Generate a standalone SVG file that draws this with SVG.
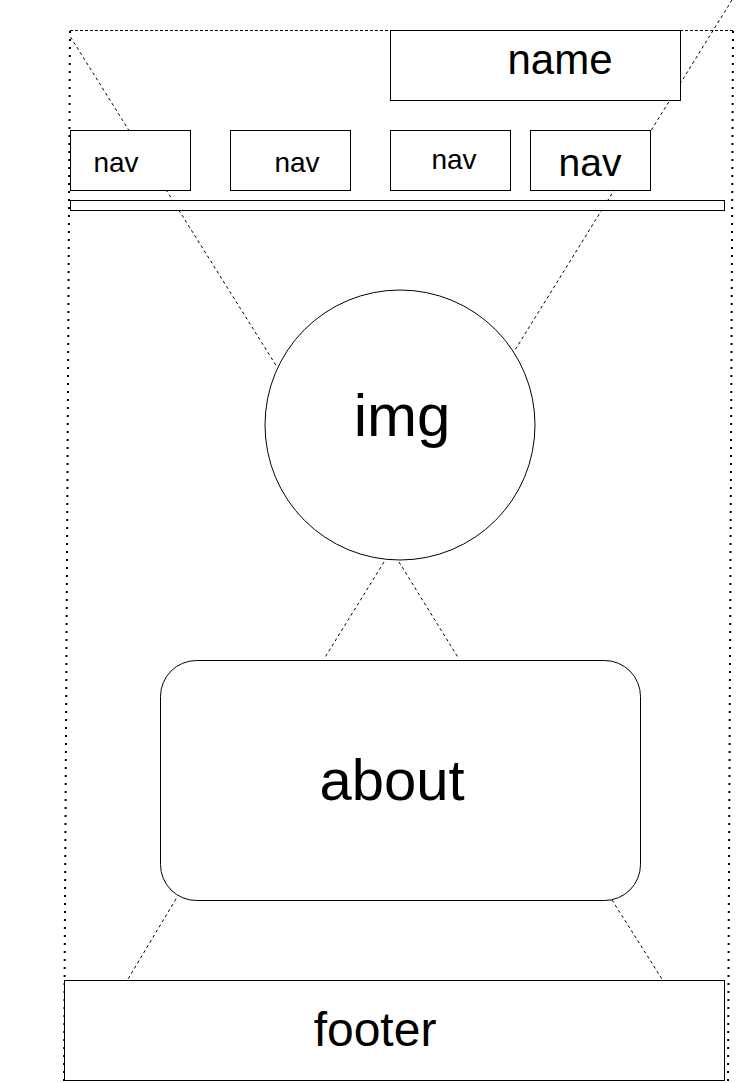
<svg xmlns="http://www.w3.org/2000/svg" width="751" height="1083" viewBox="0 0 751 1083">
<style>
.box{fill:#fff;stroke:#000;stroke-width:1}
.lbl{font-family:"Liberation Sans",Arial,Helvetica,sans-serif;fill:#000;text-anchor:middle}
.conn{fill:none;stroke:#000;stroke-width:1;stroke-dasharray:3 3}
.frame{fill:none;stroke:#000;stroke-width:2;stroke-dasharray:2 6}
</style>
<rect width="751" height="1083" fill="#fff"/>
<g id="frame">
<line x1="70" y1="30.5" x2="733" y2="30.5" stroke="#000" stroke-width="1" stroke-dasharray="3 2"/>
<line class="frame" x1="70" y1="31" x2="64" y2="1083"/>
<line class="frame" x1="733" y1="31" x2="728" y2="1083"/>
</g>
<g id="connectors">
<line class="conn" x1="70.5" y1="37" x2="277" y2="367"/>
<line class="conn" x1="732" y1="0" x2="515" y2="350"/>
<line class="conn" x1="384" y1="562" x2="324" y2="659"/>
<line class="conn" x1="399" y1="562" x2="459" y2="659"/>
<line class="conn" x1="176" y1="899" x2="128" y2="979"/>
<line class="conn" x1="612" y1="900" x2="662" y2="979"/>
</g>
<g id="name"><rect class="box" x="390.5" y="30.5" width="290" height="70"/><text class="lbl" x="560" y="74" font-size="42">name</text></g>
<g id="nav1"><rect class="box" x="70.5" y="130.5" width="120" height="60"/><text class="lbl" x="116" y="172" font-size="28">nav</text></g>
<g id="nav2"><rect class="box" x="230.5" y="130.5" width="120" height="60"/><text class="lbl" x="297" y="172" font-size="28">nav</text></g>
<g id="nav3"><rect class="box" x="390.5" y="130.5" width="120" height="60"/><text class="lbl" x="454" y="169" font-size="28">nav</text></g>
<g id="nav4"><rect class="box" x="530.5" y="130.5" width="120" height="60"/><text class="lbl" x="590" y="176" font-size="39">nav</text></g>
<g id="bar"><rect class="box" x="70.5" y="200.5" width="654" height="10"/></g>
<g id="img"><circle class="box" cx="400" cy="425" r="135"/><text class="lbl" x="402" y="436" font-size="60">img</text></g>
<g id="about"><rect class="box" x="160.5" y="660.5" width="480" height="240" rx="36" ry="36"/><text class="lbl" x="392" y="800" font-size="58">about</text></g>
<g id="footer"><rect class="box" x="64.5" y="980.5" width="660" height="100"/><text class="lbl" x="375" y="1046" font-size="48">footer</text></g>
</svg>
